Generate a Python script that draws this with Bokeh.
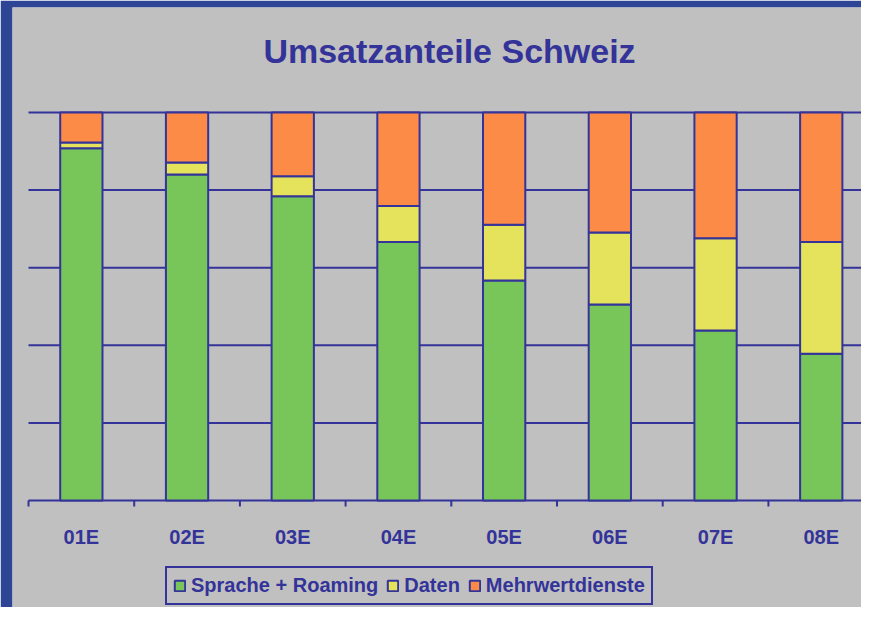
from bokeh.plotting import figure
from bokeh.models import Range1d, Legend, LegendItem
from bokeh.core.properties import value
from bokeh.embed import file_html
from bokeh.resources import INLINE
import numpy as np

title_text = "Umsatzanteile Schweiz"
categories = ["01E", "02E", "03E", "04E", "05E", "06E", "07E", "08E"]
sprache = [90.8, 84.0, 78.4, 66.6, 56.7, 50.5, 43.8, 37.8]
daten = [1.5, 3.1, 5.2, 9.3, 14.4, 18.6, 23.8, 28.8]
mehrwert = [7.7, 12.9, 16.4, 24.1, 28.9, 30.9, 32.4, 33.4]
series_names = ["Sprache + Roaming", "Daten", "Mehrwertdienste"]
colors = ["#78C65A", "#E5E35B", "#FB8B46"]
grid_levels = [0, 20, 40, 60, 80, 100]

DARK = "#333399"
BG = "#C0C0C0"
FRAME_BLUE = "#2E4596"

W, H = 861, 607
LEFT, TOP = 12, 7            # blue band widths
X0PX, CATPX = 28, 105.7      # pixel x of first category boundary, px per category
Y0PX, Y100PX = 500, 112      # pixel y of 0 % and 100 %
YPX = (Y0PX - Y100PX) / 100.0

def xd(px):
    return (px - X0PX) / CATPX

def yd(py):
    return (Y0PX - py) / YPX

n = len(categories)
xpos = np.arange(n) + 0.5
data = dict(x=xpos, s=sprache, d=daten, m=mehrwert)

p = figure(width=W, height=H, output_backend="svg", toolbar_location=None,
           x_range=Range1d(xd(LEFT), xd(W)), y_range=Range1d(yd(H), yd(TOP)),
           min_border_left=LEFT, min_border_right=0, min_border_top=TOP, min_border_bottom=0)

p.background_fill_color = BG
p.border_fill_color = FRAME_BLUE
p.outline_line_color = None
p.xaxis.visible = False
p.yaxis.visible = False
p.grid.visible = False

# horizontal grid lines
p.segment(x0=[0] * len(grid_levels), x1=[n] * len(grid_levels), y0=grid_levels, y1=grid_levels,
          line_color=DARK, line_width=2)

renderers = p.vbar_stack(["s", "d", "m"], x="x", width=0.4, source=data,
                         fill_color=colors, line_color=DARK, line_width=2)

# category boundary ticks and labels
bounds = np.arange(n + 1)
p.segment(x0=bounds, x1=bounds, y0=[0] * (n + 1), y1=[yd(Y0PX + 6)] * (n + 1),
          line_color=DARK, line_width=2)
p.text(x=xpos, y=[yd(536)] * n, text=categories, text_align="center",
       text_baseline="middle", text_font=value("Liberation Sans"),
       text_font_size="20px", text_font_style="bold", text_color=DARK)

# title
p.text(x=[xd(449)], y=[yd(50)], text=[title_text], text_align="center",
       text_baseline="middle", text_font=value("Liberation Sans"),
       text_font_size="34px", text_font_style="bold", text_color=DARK)

legend = Legend(items=[LegendItem(label=nm, renderers=[r]) for nm, r in zip(series_names, renderers)],
                orientation="horizontal", location=(165 - LEFT, 2))
legend.label_text_font = "Liberation Sans"
legend.label_text_font_size = "20px"
legend.label_text_font_style = "bold"
legend.label_text_color = DARK
legend.glyph_width = 13
legend.glyph_height = 13
legend.label_standoff = 5
legend.spacing = 8
legend.padding = 6
legend.margin = 0
legend.border_line_color = DARK
legend.border_line_width = 2
legend.border_line_alpha = 1
legend.background_fill_color = BG
legend.background_fill_alpha = 1
p.add_layout(legend, "center")

open("out.html", "w").write(file_html(p, INLINE))
